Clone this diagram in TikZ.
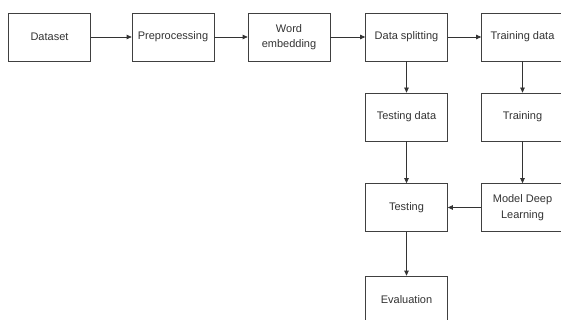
\documentclass[tikz,border=0pt]{standalone}
\usepackage{fontspec}
\setmainfont{Liberation Sans}
\usetikzlibrary{arrows.meta}
\begin{document}
\begin{tikzpicture}[x=1pt,y=-1pt,
  box/.style={draw=black!75, line width=0.7pt, minimum width=82pt, minimum height=48pt,
    inner sep=0pt, align=center, text=black!80, font=\fontsize{11}{15.5}\selectfont},
  conn/.style={draw=black!80, line width=0.7pt, -{Triangle[length=5pt,width=4.5pt]}}]
\useasboundingbox (0,0) rectangle (561,320);
\clip (0,0) rectangle (561,320);
\fill[white] (0,0) rectangle (561,320);
\node[box] (ds) at (49.5,37) {Dataset};
\node[box] (pp) at (173,37) {Preprocessing};
\node[box] (we) at (289,37) {Word\\embedding};
\node[box] (sp) at (406.5,37) {Data splitting};
\node[box] (trd) at (522.5,37) {Training data};
\node[box] (ted) at (406.5,117) {Testing data};
\node[box] (tr) at (522.5,117) {Training};
\node[box] (te) at (406.5,207.5) {Testing};
\node[box] (mdl) at (522.5,207.5) {Model Deep\\Learning};
\node[box] (ev) at (406.5,300) {Evaluation};
\draw[conn] (ds) -- (pp);
\draw[conn] (pp) -- (we);
\draw[conn] (we) -- (sp);
\draw[conn] (sp) -- (trd);
\draw[conn] (sp) -- (ted);
\draw[conn] (trd) -- (tr);
\draw[conn] (ted) -- (te);
\draw[conn] (tr) -- (mdl);
\draw[conn] (mdl) -- (te);
\draw[conn] (te) -- (ev);
\end{tikzpicture}
\end{document}
